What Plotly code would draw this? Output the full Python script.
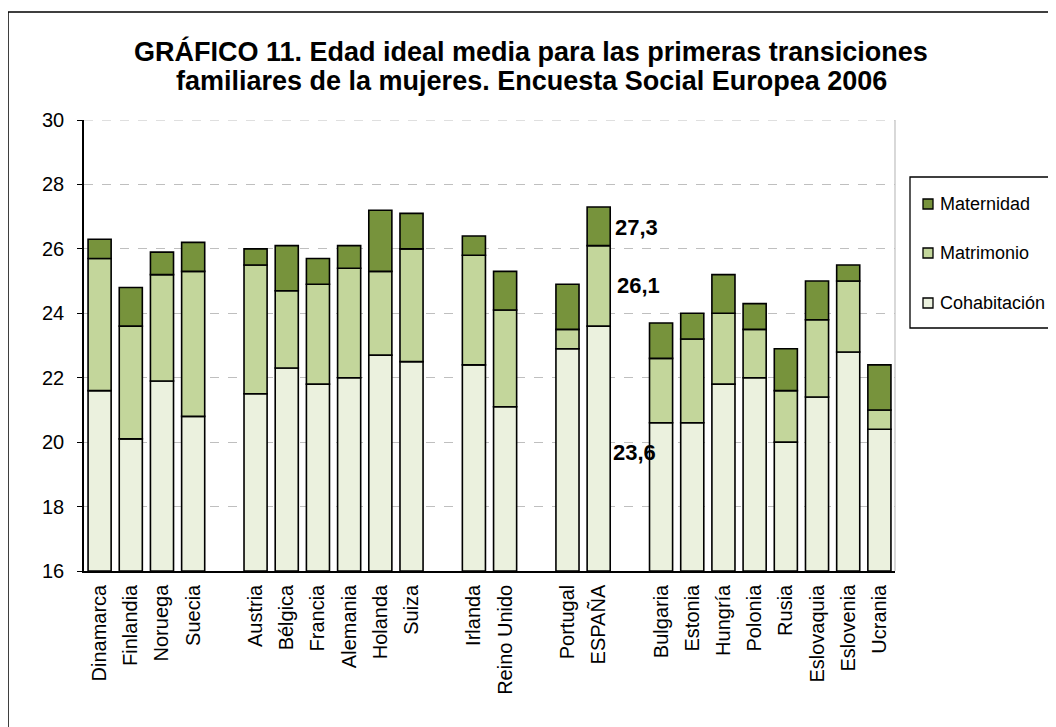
import plotly.graph_objects as go

# ---- data (ages, cumulative top of each segment) ----
countries = ["Dinamarca", "Finlandia", "Noruega", "Suecia", " ",
             "Austria", "Bélgica", "Francia", "Alemania", "Holanda", "Suiza", "  ",
             "Irlanda", "Reino Unido", "   ",
             "Portugal", "ESPAÑA", "    ",
             "Bulgaria", "Estonia", "Hungría", "Polonia", "Rusia", "Eslovaquia", "Eslovenia", "Ucrania"]
cohabitacion = [21.6, 20.1, 21.9, 20.8, None,
                21.5, 22.3, 21.8, 22.0, 22.7, 22.5, None,
                22.4, 21.1, None,
                22.9, 23.6, None,
                20.6, 20.6, 21.8, 22.0, 20.0, 21.4, 22.8, 20.4]
matrimonio = [25.7, 23.6, 25.2, 25.3, None,
              25.5, 24.7, 24.9, 25.4, 25.3, 26.0, None,
              25.8, 24.1, None,
              23.5, 26.1, None,
              22.6, 23.2, 24.0, 23.5, 21.6, 23.8, 25.0, 21.0]
maternidad = [26.3, 24.8, 25.9, 26.2, None,
              26.0, 26.1, 25.7, 26.1, 27.2, 27.1, None,
              26.4, 25.3, None,
              24.9, 27.3, None,
              23.7, 24.0, 25.2, 24.3, 22.9, 25.0, 25.5, 22.4]
y_base = 16
y_ticks = [16, 18, 20, 22, 24, 26, 28, 30]
series_names = ["Cohabitación", "Matrimonio", "Maternidad"]
series_colors = ["#EBF1DE", "#C3D69B", "#77933C"]
highlight = "ESPAÑA"

FONT = "Arial, Liberation Sans, sans-serif"

def diff(a, b):
    return [None if (x is None or y is None) else round(x - y, 3) for x, y in zip(a, b)]

cohab_h = [None if v is None else round(v - y_base, 3) for v in cohabitacion]
matr_h = diff(matrimonio, cohabitacion)
mat_h = diff(maternidad, matrimonio)

fig = go.Figure()
segments = [
    (series_names[0], cohab_h, [y_base] * len(countries), series_colors[0]),
    (series_names[1], matr_h, cohabitacion, series_colors[1]),
    (series_names[2], mat_h, matrimonio, series_colors[2]),
]
for name, h, base, col in segments:
    fig.add_trace(go.Bar(
        x=countries, y=h, base=base, name=name, width=0.74,
        marker=dict(color=col, line=dict(color="black", width=1.6)),
        showlegend=False,
    ))

# page offset (default body margin) and plot-area geometry in screen pixels
OFF = 8
W, H = 1056 - OFF, 727 - OFF
SL, SR, ST, SB = 84, 895, 120, 571          # plot area on screen
L, R, T, B = SL - OFF, SR - OFF, ST - OFF, SB - OFF
pw, ph = R - L, B - T

def px(x):
    return (x - SL) / pw

def py(y):
    return (SB - y) / ph

shapes = []
annotations = []

# outer chart border (left/top visible, continues beyond image)
shapes.append(dict(type="rect", xref="paper", yref="paper",
                   x0=px(8), x1=px(1080), y0=py(760), y1=py(12),
                   line=dict(color="black", width=1.5), fillcolor="rgba(0,0,0,0)", layer="below"))
# plot-area right border and top grid line
shapes.append(dict(type="line", xref="paper", yref="paper", x0=1, x1=1, y0=0, y1=1,
                   line=dict(color="#BFBFBF", width=1.2)))
shapes.append(dict(type="line", xref="paper", yref="y", x0=0, x1=1, y0=30, y1=30,
                   line=dict(color="#BFBFBF", width=1.2, dash="dash")))

# title
annotations.append(dict(text="<b>GRÁFICO 11. Edad ideal media para las primeras transiciones</b>",
                        xref="paper", yref="paper", x=px(531), y=py(52), xanchor="center", yanchor="middle",
                        showarrow=False, font=dict(family=FONT, size=27, color="black")))
annotations.append(dict(text="<b>familiares de la mujeres. Encuesta Social Europea 2006</b>",
                        xref="paper", yref="paper", x=px(531), y=py(81), xanchor="center", yanchor="middle",
                        showarrow=False, font=dict(family=FONT, size=27, color="black")))

# data labels for Spain
idx = countries.index(highlight)
for val, ysh, xsh in [(maternidad[idx], -21, 38), (matrimonio[idx], -40, 40), (cohabitacion[idx], -126, 36)]:
    annotations.append(dict(text="<b>" + f"{val:.1f}".replace(".", ",") + "</b>",
                            x=highlight, y=val, xref="x", yref="y", xshift=xsh, yshift=ysh,
                            xanchor="center", yanchor="middle", showarrow=False,
                            font=dict(family=FONT, size=22, color="black")))

# manual legend
shapes.append(dict(type="rect", xref="paper", yref="paper",
                   x0=px(910), x1=px(1080), y0=py(328), y1=py(177),
                   line=dict(color="black", width=1.3), fillcolor="white"))
leg_items = [(series_names[2], series_colors[2], 204),
             (series_names[1], series_colors[1], 253),
             (series_names[0], series_colors[0], 303)]
for name, col, yc in leg_items:
    shapes.append(dict(type="rect", xref="paper", yref="paper",
                       x0=px(923), x1=px(933), y0=py(yc + 5), y1=py(yc - 5),
                       line=dict(color="black", width=1.3), fillcolor=col))
    annotations.append(dict(text=name, xref="paper", yref="paper", x=px(938), y=py(yc),
                            xanchor="left", yanchor="middle", showarrow=False,
                            font=dict(family=FONT, size=18, color="black")))

fig.update_layout(
    width=W, height=H,
    margin=dict(l=L, r=W - R, t=T, b=H - B, pad=0),
    barmode="overlay",
    plot_bgcolor="white", paper_bgcolor="white",
    font=dict(family=FONT, color="black"),
    shapes=shapes, annotations=annotations,
    showlegend=False,
)
fig.update_xaxes(
    type="category", categoryorder="array", categoryarray=countries,
    tickangle=-90, tickfont=dict(size=20, family=FONT, color="black"),
    showline=True, linecolor="black", linewidth=1.5, ticks="", showgrid=False,
    range=[-0.5, len(countries) - 0.5], ticklabelstandoff=4,
)
fig.update_yaxes(
    range=[16, 30], tickvals=y_ticks, ticks="outside", ticklen=5, tickcolor="black", tickwidth=1.3,
    showline=True, linecolor="black", linewidth=1.5,
    showgrid=True, gridcolor="#BFBFBF", griddash="dash", gridwidth=1.2,
    tickfont=dict(size=20, family=FONT, color="black"), ticklabelstandoff=9,
    zeroline=False,
)

fig.write_html("out.html")
